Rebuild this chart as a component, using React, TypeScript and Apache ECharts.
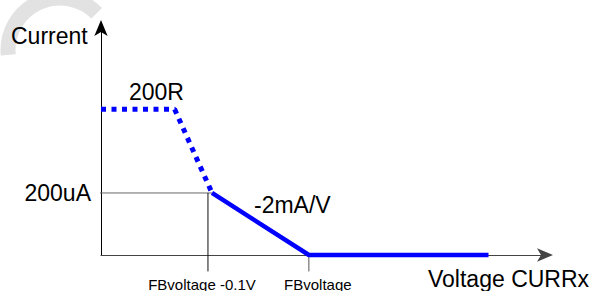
import React, { useEffect, useRef } from "react";
import * as echarts from "echarts";

// Units: x in mV relative to FBvoltage, y in uA
const xRange = [-206, 234];
const yRange = [0, 732];
const dottedX = [-206, -133, -96];
const dottedY = [470, 470, 200];
const solidX = [-96, 0, 178];
const solidY = [200, 0, 0];
const levelGuideX = [-211, -96];
const levelGuideY = [200, 200];
const dropGuideX = [-100, -100];
const dropGuideY = [200, -53];
const fbTickX = [0, 0];
const fbTickY = [0, -53];
const yTickValues = [200];
const yTickLabels = ["200uA"];
const xTickValues = [-100, 0];
const xTickLabels = ["FBvoltage -0.1V", "FBvoltage"];
const xLabelShift = [-6, 9];

const FONT = "'Liberation Sans', Arial, Helvetica, sans-serif";

const pairs = (xs: number[], ys: number[]) => xs.map((x, i) => [x, ys[i]]);

export default function App() {
  const ref = useRef<HTMLDivElement>(null);
  useEffect(() => {
    if (!ref.current) return;
    document.body.style.margin = "0";
    const chart = echarts.init(ref.current, undefined, { renderer: "svg" });
    const option: any = {
      animation: false,
      backgroundColor: "#ffffff",
      grid: { left: 101, top: 28, width: 444, height: 227 },
      xAxis: {
        type: "value",
        min: xRange[0],
        max: xRange[1],
        axisLine: {
          show: true,
          onZero: false,
          symbol: ["none", "arrow"],
          symbolSize: [10, 16],
          symbolOffset: [0, 8],
          lineStyle: { color: "#444", width: 1.2 },
        },
        axisTick: { show: false },
        axisLabel: { show: false },
        splitLine: { show: false },
      },
      yAxis: {
        type: "value",
        min: yRange[0],
        max: yRange[1],
        interval: 200,
        axisLine: {
          show: true,
          onZero: false,
          symbol: ["none", "arrow"],
          symbolSize: [10, 16],
          symbolOffset: [0, 8],
          lineStyle: { color: "#000", width: 1 },
        },
        axisTick: { show: false },
        splitLine: { show: false },
        axisLabel: {
          margin: 10,
          fontSize: 23,
          fontFamily: FONT,
          color: "#000",
          formatter: (v: number) => {
            const i = yTickValues.indexOf(v);
            return i >= 0 ? yTickLabels[i] : "";
          },
        },
      },
      series: [
        {
          type: "line",
          data: pairs(levelGuideX, levelGuideY),
          symbol: "none",
          clip: false,
          z: 1,
          lineStyle: { color: "#666", width: 1 },
        },
        {
          type: "line",
          data: pairs(dropGuideX, dropGuideY),
          symbol: "none",
          clip: false,
          z: 1,
          lineStyle: { color: "#111", width: 1 },
        },
        {
          type: "line",
          data: pairs(fbTickX, fbTickY),
          symbol: "none",
          clip: false,
          z: 1,
          lineStyle: { color: "#555", width: 1 },
        },
        {
          type: "line",
          data: pairs(dottedX, dottedY),
          symbol: "none",
          clip: false,
          z: 3,
          lineStyle: { color: "#0000ff", width: 5, type: [5, 5.5], cap: "butt" },
        },
        {
          type: "line",
          data: pairs(solidX, solidY),
          symbol: "none",
          clip: false,
          z: 3,
          lineStyle: { color: "#0000ff", width: 4.5, cap: "butt", join: "round" },
        },
      ],
    };
    chart.setOption(option);

    const xLabels = xTickValues.map((v, i) => {
      const p = chart.convertToPixel({ gridIndex: 0 }, [v, 0]) as number[];
      return {
        type: "text",
        x: p[0] + xLabelShift[i],
        y: 284,
        style: {
          text: xTickLabels[i],
          fontSize: 15,
          fontFamily: FONT,
          fill: "#000",
          align: "center",
          verticalAlign: "middle",
        },
      };
    });

    const bigText = (text: string, x: number, y: number) => ({
      type: "text",
      x,
      y,
      style: {
        text,
        fontSize: 23,
        fontFamily: FONT,
        fill: "#000",
        align: "left",
        verticalAlign: "middle",
      },
    });

    chart.setOption({
      graphic: [
        {
          type: "arc",
          z: -10,
          silent: true,
          shape: { cx: 60, cy: 50, r: 52, startAngle: Math.PI * 0.97, endAngle: Math.PI * 1.75 },
          style: { stroke: "#e2e2e2", lineWidth: 15, fill: "none" },
        },
        bigText("Current", 11, 36),
        bigText("200R", 129, 92),
        bigText("-2mA/V", 254, 205),
        bigText("Voltage CURRx", 428, 279),
        ...xLabels,
      ],
    });

    return () => chart.dispose();
  }, []);
  return <div ref={ref} style={{ width: 595, height: 291 }} />;
}
